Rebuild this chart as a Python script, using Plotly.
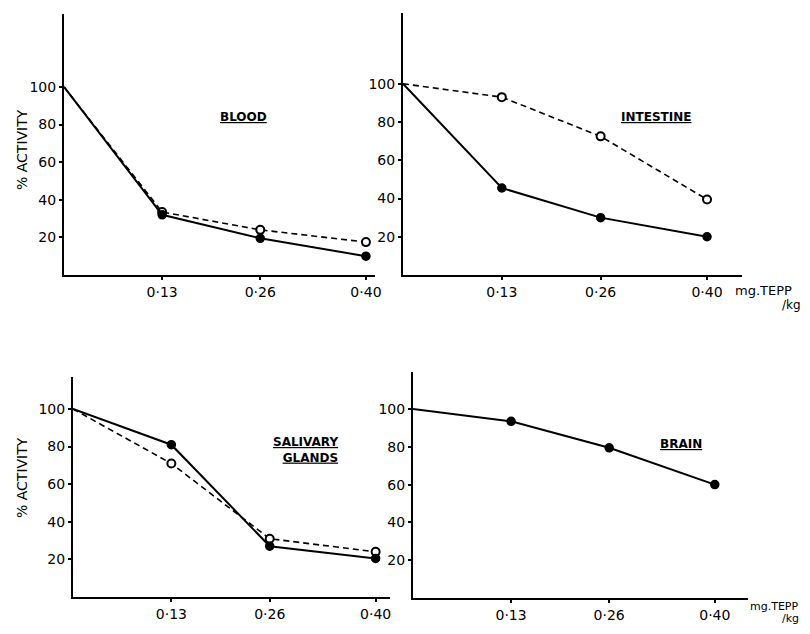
import plotly.graph_objects as go

# ---- data ----
dose = [0, 0.13, 0.26, 0.40]
dose_ticks = [0.13, 0.26, 0.40]
dose_ticklabels = ["0·13", "0·26", "0·40"]
y_ticks = [20, 40, 60, 80, 100]

blood_solid = [100, 32, 19.5, 10]
blood_dashed = [100, 33.5, 24, 17.5]
intestine_solid = [100, 45.5, 30, 20]
intestine_dashed = [100, 93, 72.5, 39.5]
salivary_solid = [100, 81, 27, 20.5]
salivary_dashed = [100, 71, 31, 24]
brain_solid = [100, 93.5, 79.5, 60]

# page has an 8px body margin on every side; figure sized so the page does not scroll
OFF = 8
W, H = 794, 618

def fx(px):
    return (px - OFF) / W

def fy(py):
    return 1 - (py - OFF) / H

# panel geometry in page pixels: (x0, x1, ytop, ybottom, xmax, ymax)
panels = [
    (64, 375, 14, 275, 0.412, 138.8),
    (403, 742, 13, 275, 0.446, 137.0),
    (73, 390, 377, 597, 0.419, 117.0),
    (413, 748, 372, 598, 0.444, 119.6),
]

fig = go.Figure()

series = [
    (1, blood_solid, blood_dashed),
    (2, intestine_solid, intestine_dashed),
    (3, salivary_solid, salivary_dashed),
    (4, brain_solid, None),
]

for idx, solid, dashed in series:
    xa = "x" if idx == 1 else f"x{idx}"
    ya = "y" if idx == 1 else f"y{idx}"
    if dashed is not None:
        fig.add_trace(go.Scatter(
            x=dose, y=dashed, xaxis=xa, yaxis=ya, mode="lines+markers",
            line=dict(color="black", width=1.6, dash="6px,4px"),
            marker=dict(symbol="circle", size=[0, 8, 8, 8], opacity=1,
                        color="white", line=dict(color="black", width=2)),
            showlegend=False, hoverinfo="skip", cliponaxis=False))
    fig.add_trace(go.Scatter(
        x=dose, y=solid, xaxis=xa, yaxis=ya, mode="lines+markers",
        line=dict(color="black", width=2),
        marker=dict(symbol="circle", size=[0, 8, 8, 8], color="black", opacity=1,
                    line=dict(color="black", width=1.5)),
        showlegend=False, hoverinfo="skip", cliponaxis=False))

tickfont = dict(family="DejaVu Sans", size=14, color="black")
layout = {}
for i, (x0, x1, yt, yb, xmax, ymax) in enumerate(panels, start=1):
    sx = "" if i == 1 else str(i)
    layout[f"xaxis{sx}"] = dict(
        domain=[fx(x0), min(fx(x1), 1)], range=[0, xmax], anchor=f"y{sx}", automargin=False,
        showline=True, linecolor="black", linewidth=2, showgrid=False, zeroline=False,
        tickvals=dose_ticks, ticktext=dose_ticklabels, ticks="outside", ticklen=3,
        tickcolor="black", tickwidth=1.5, tickfont=tickfont, fixedrange=True)
    layout[f"yaxis{sx}"] = dict(
        domain=[max(fy(yb), 0), fy(yt)], range=[0, ymax], anchor=f"x{sx}", automargin=False,
        showline=True, linecolor="black", linewidth=2, showgrid=False, zeroline=False,
        tickvals=y_ticks, ticks="outside", ticklen=3, tickcolor="black", tickwidth=1.5,
        tickfont=tickfont, fixedrange=True)

fig.update_layout(
    width=W, height=H, margin=dict(l=0, r=0, t=0, b=0),
    paper_bgcolor="white", plot_bgcolor="white", **layout)

annfont = dict(family="DejaVu Sans", size=12, color="black", weight="bold")
anns = [
    (244, 117, "<u>BLOOD</u>"),
    (656, 117, "<u>INTESTINE</u>"),
    (681, 444, "<u>BRAIN</u>"),
]
for px, py, t in anns:
    fig.add_annotation(x=fx(px), y=fy(py), xref="paper", yref="paper", text=t,
                       showarrow=False, font=annfont, align="center",
                       xanchor="center", yanchor="middle")
fig.add_annotation(x=fx(340), y=fy(450), xref="paper", yref="paper",
                   text="<u>SALIVARY</u><br><u>GLANDS</u>", showarrow=False,
                   font=annfont, align="right", xanchor="right", yanchor="middle")
for py in (150, 478):
    fig.add_annotation(x=fx(22), y=fy(py), xref="paper", yref="paper",
                       text="% ACTIVITY", textangle=-90, showarrow=False,
                       xanchor="center", yanchor="middle",
                       font=dict(family="DejaVu Sans", size=14, color="black"))

for (mx, my, msize, kx, ky, ksize) in [(733, 290, 13, 780, 305, 12),
                                       (748, 606, 11, 780, 618, 11)]:
    fig.add_annotation(x=fx(mx), y=fy(my), xref="paper", yref="paper",
                       text="mg.TEPP", showarrow=False, xanchor="left",
                       yanchor="middle",
                       font=dict(family="DejaVu Sans", size=msize, color="black"))
    fig.add_annotation(x=fx(kx), y=fy(ky), xref="paper", yref="paper",
                       text="/kg", showarrow=False, xanchor="left",
                       yanchor="middle",
                       font=dict(family="DejaVu Sans", size=ksize, color="black"))

fig.write_html("out.html")
